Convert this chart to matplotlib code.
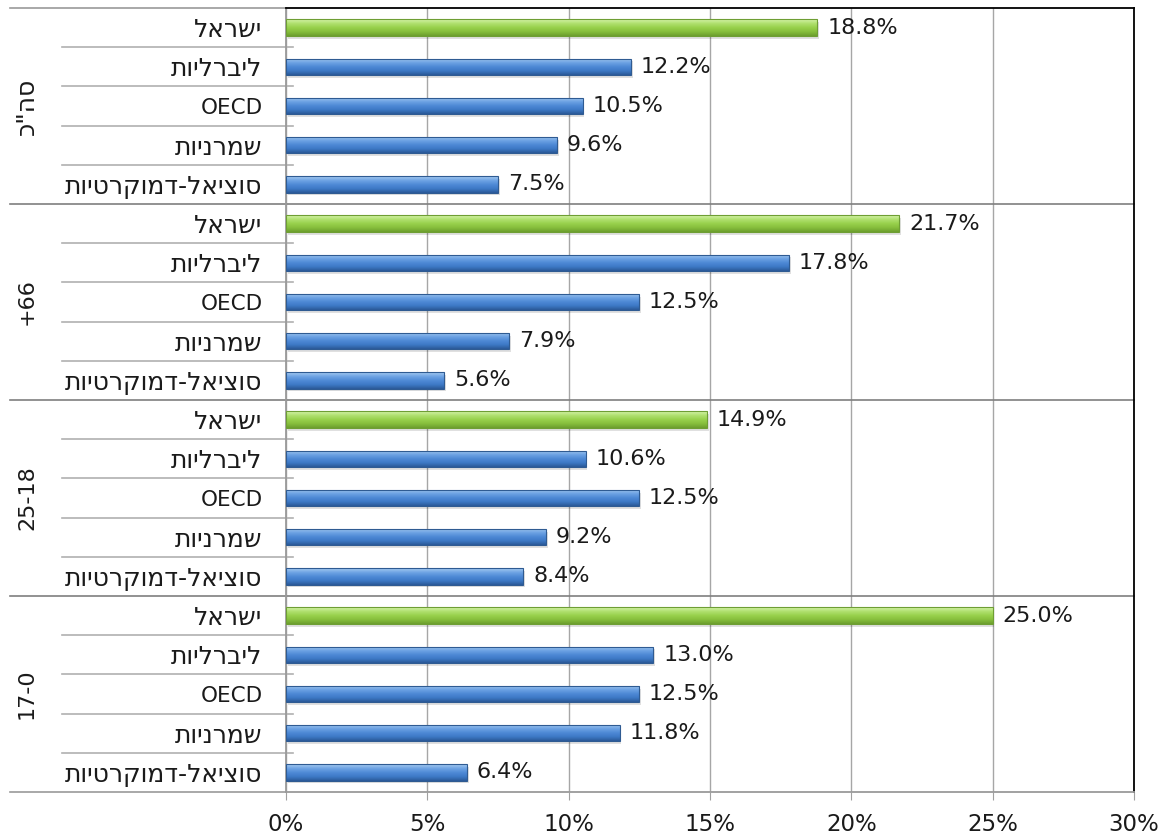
import matplotlib
matplotlib.use("Agg")
import matplotlib.pyplot as plt
import numpy as np
from matplotlib.colors import LinearSegmentedColormap

plt.rcParams['font.family'] = ['DejaVu Sans']

groups = ['סה"כ', '+66', '25-18', '17-0']
categories = ['ישראל', 'ליברליות', 'OECD', 'שמרניות', 'סוציאל-דמוקרטיות']
values_total = [18.8, 12.2, 10.5, 9.6, 7.5]
values_66 = [21.7, 17.8, 12.5, 7.9, 5.6]
values_18_25 = [14.9, 10.6, 12.5, 9.2, 8.4]
values_0_17 = [25.0, 13.0, 12.5, 11.8, 6.4]
group_values = [values_total, values_66, values_18_25, values_0_17]
xticks = [0, 5, 10, 15, 20, 25, 30]


def is_heb(s):
    return any('\u0590' <= c <= '\u05FF' for c in s)


def vis(s):
    # matplotlib has no bidi: reverse Hebrew strings for visual order
    return s[::-1] if is_heb(s) else s


fig = plt.figure(figsize=(11.66, 8.36), dpi=100)
L, R, T, B = 286, 1134, 8, 792
W, H = 1166, 836
ax = fig.add_axes([L / W, 1 - B / H, (R - L) / W, (B - T) / H])

ncat = len(categories)
labels, vals, colors_key = [], [], []
for g, gv in zip(groups, group_values):
    for c, v in zip(categories, gv):
        labels.append(c)
        vals.append(v)
        colors_key.append('green' if c == 'ישראל' else 'blue')

n = len(vals)
ypos = np.arange(n)
bar_h = 0.42

cmaps = {
    'blue': LinearSegmentedColormap.from_list('b', ['#A6CBF1', '#6FA4E4', '#4F8AD6', '#3D79C6', '#2B5A98']),
    'green': LinearSegmentedColormap.from_list('g', ['#D6F4AA', '#B0E070', '#98D14C', '#86BE3C', '#6C9F2E']),
}
edges = {'blue': '#2F5B92', 'green': '#6E9E34'}

ax.set_xlim(0, 30)
ax.set_ylim(n - 0.5, -0.5)

bars = ax.barh(ypos, vals, height=bar_h, color='none', edgecolor='none', zorder=3)
grad = np.linspace(0, 1, 64).reshape(-1, 1)
for b, key in zip(bars, colors_key):
    x0, y0 = b.get_x(), b.get_y()
    w, h = b.get_width(), b.get_height()
    # shadow
    ax.barh(y0 + h / 2 + 0.07, w, height=h, left=x0 + 0.06, color='#000000', alpha=0.12,
            edgecolor='none', zorder=2)
    im = ax.imshow(grad, cmap=cmaps[key], aspect='auto', origin='upper',
                   extent=(x0, x0 + w, y0 + h, y0), zorder=3, interpolation='bilinear')
    im.set_clip_path(b)
    ax.barh(y0 + h / 2, w, height=h, left=x0, color='none', edgecolor=edges[key],
            linewidth=0.8, zorder=4)

ax.set_xlim(0, 30)
ax.set_ylim(n - 0.5, -0.5)

for y, v in zip(ypos, vals):
    ax.annotate(f'{v:.1f}%', (v, y), xytext=(7, 0), textcoords='offset points',
                ha='left', va='center', fontsize=16, color='#1a1a1a', zorder=5)

ax.set_yticks(ypos)
ax.set_yticklabels([vis(s) for s in labels], color='#1a1a1a')
for tl, s in zip(ax.get_yticklabels(), labels):
    tl.set_fontsize(18 if is_heb(s) else 15.5)
ax.tick_params(axis='y', length=0, pad=17)

ax.set_xticks(xticks)
ax.set_xticklabels([f'{t}%' for t in xticks], fontsize=16.5, color='#1a1a1a')
ax.tick_params(axis='x', length=6, color='#A0A0A0', pad=9)

ax.grid(axis='x', color='#A6A6A6', linewidth=1, zorder=0)
ax.set_axisbelow(True)

for s in ['top', 'right']:
    ax.spines[s].set_color('black')
    ax.spines[s].set_linewidth(1.3)
for s in ['left', 'bottom']:
    ax.spines[s].set_color('#9A9A9A')
    ax.spines[s].set_linewidth(1.3)

trans = ax.get_yaxis_transform()
xf = lambda px: (px - L) / (R - L)

# category separators (tick marks extending left)
for i in range(n + 1):
    yb = i - 0.5
    if i % ncat == 0:
        inner = 0 < i < n
        xe = 1.0 if inner else 0.0
        ax.plot([xf(10), xe], [yb, yb], transform=trans, color='#7F7F7F' if inner else '#9A9A9A',
                linewidth=1.2, clip_on=False, zorder=1)
    else:
        ax.plot([xf(62), xf(293)], [yb, yb], transform=trans, color='#B0B0B0',
                linewidth=1.2, clip_on=False, zorder=1)

# group labels
for gi, g in enumerate(groups):
    yc = gi * ncat + (ncat - 1) / 2
    ax.text(xf(27), yc, vis(g), transform=trans, rotation=90, ha='center', va='center',
            fontsize=18 if is_heb(g) else 16, color='#1a1a1a')

fig.savefig('out.png', dpi=100, facecolor='white')
